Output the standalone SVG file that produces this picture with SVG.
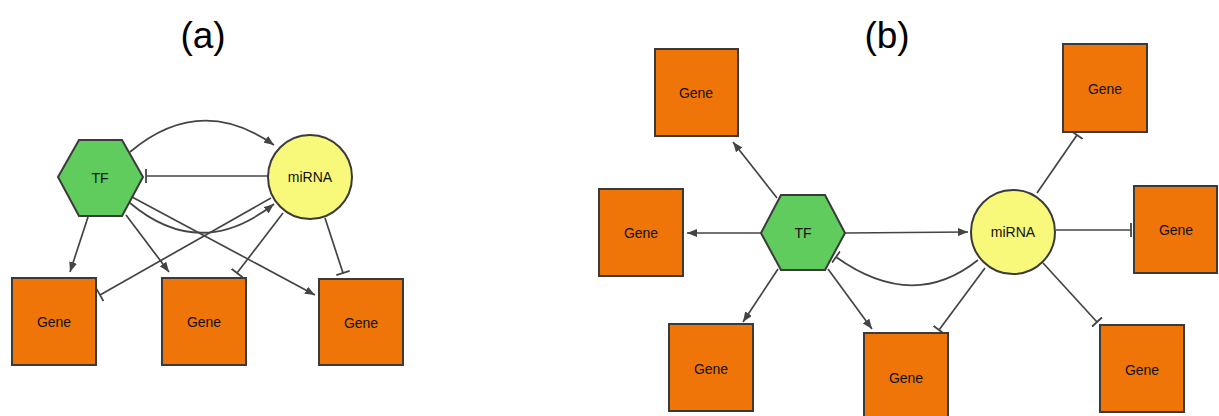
<svg xmlns="http://www.w3.org/2000/svg" width="1219" height="416" viewBox="0 0 1219 416">
<style>
.gene{fill:#F07508;stroke:#3a3a3a;stroke-width:2}
.tf{fill:#61CC5E;stroke:#3a3a3a;stroke-width:2}
.mi{fill:#F8F87A;stroke:#3a3a3a;stroke-width:2}
.lbl{font-family:"Liberation Sans",Arial,sans-serif;font-size:14px;fill:#111;text-anchor:middle;dominant-baseline:central}
.title{font-family:"Liberation Sans",Arial,sans-serif;font-size:37px;fill:#000;text-anchor:middle}
.e{fill:none;stroke:#444;stroke-width:1.7}
.act{marker-end:url(#arr)}
.inh{marker-end:url(#bar)}
</style>
<defs>
<marker id="arr" markerUnits="userSpaceOnUse" viewBox="0 0 10 8" refX="10" refY="4" markerWidth="10" markerHeight="8" orient="auto">
<path d="M0,0 L10,4 L0,8 Z" fill="#444"/>
</marker>
<marker id="bar" markerUnits="userSpaceOnUse" viewBox="0 0 4 14" refX="2" refY="7" markerWidth="4" markerHeight="14" orient="auto">
<path d="M2,0 L2,14" stroke="#444" stroke-width="1.8"/>
</marker>
</defs>
<rect width="1219" height="416" fill="#fff"/>
<text class="title" x="203" y="48">(a)</text>
<text class="title" x="887" y="48">(b)</text>

<g id="connectors">
<!-- panel a -->
<path class="e act" d="M130,152 Q200,93 274,145"/>
<path class="e inh" d="M268,176 L146,176"/>
<path class="e act" d="M88,217 L70,272"/>
<path class="e act" d="M126,215 L169,272"/>
<path class="e act" d="M132,197 L315,295"/>
<path class="e act" d="M130,203 Q200,262 274,204"/>
<path class="e inh" d="M271,198 L100,295"/>
<path class="e inh" d="M283,213 L237,273"/>
<path class="e inh" d="M325,218 L343,273"/>
<!-- panel b -->
<path class="e act" d="M777,198 L733,142"/>
<path class="e act" d="M761,233 L687,233"/>
<path class="e act" d="M778,269 L743,322"/>
<path class="e act" d="M828,269 L872,329"/>
<path class="e act" d="M845,233 L968,232"/>
<path class="e inh" d="M978,260 Q913,312 836,257"/>
<path class="e inh" d="M1037,193 L1077,135"/>
<path class="e inh" d="M1056,230 L1131,230"/>
<path class="e inh" d="M1043,263 L1097,322"/>
<path class="e inh" d="M985,268 L939,330"/>
</g>

<!-- panel a nodes -->
<g id="a-tf"><polygon class="tf" points="58,177 79,140 122,140 143,177 122,216 79,216"/><text class="lbl" x="100" y="178">TF</text></g>
<g id="a-mirna"><circle class="mi" cx="310" cy="177" r="42"/><text class="lbl" x="310" y="177">miRNA</text></g>
<g id="a-gene1"><rect class="gene" x="12" y="278" width="84" height="87"/><text class="lbl" x="54" y="322">Gene</text></g>
<g id="a-gene2"><rect class="gene" x="162" y="278" width="84" height="87"/><text class="lbl" x="204" y="322">Gene</text></g>
<g id="a-gene3"><rect class="gene" x="319" y="279" width="84" height="86"/><text class="lbl" x="361" y="323">Gene</text></g>

<!-- panel b nodes -->
<g id="b-tf"><polygon class="tf" points="761,233 781,195 825,195 845,233 825,270 781,270"/><text class="lbl" x="803" y="233">TF</text></g>
<g id="b-mirna"><circle class="mi" cx="1013" cy="232" r="42"/><text class="lbl" x="1013" y="232">miRNA</text></g>
<g id="b-gene-tl"><rect class="gene" x="655" y="49" width="83" height="87"/><text class="lbl" x="696" y="93">Gene</text></g>
<g id="b-gene-l"><rect class="gene" x="599" y="189" width="84" height="87"/><text class="lbl" x="641" y="233">Gene</text></g>
<g id="b-gene-bl"><rect class="gene" x="669" y="324" width="84" height="87"/><text class="lbl" x="711" y="369">Gene</text></g>
<g id="b-gene-bm"><rect class="gene" x="864" y="333" width="84" height="87"/><text class="lbl" x="906" y="378">Gene</text></g>
<g id="b-gene-tr"><rect class="gene" x="1063" y="44" width="84" height="88"/><text class="lbl" x="1105" y="89">Gene</text></g>
<g id="b-gene-r"><rect class="gene" x="1134" y="186" width="83" height="87"/><text class="lbl" x="1176" y="230">Gene</text></g>
<g id="b-gene-br"><rect class="gene" x="1100" y="325" width="84" height="87"/><text class="lbl" x="1142" y="370">Gene</text></g>
</svg>
